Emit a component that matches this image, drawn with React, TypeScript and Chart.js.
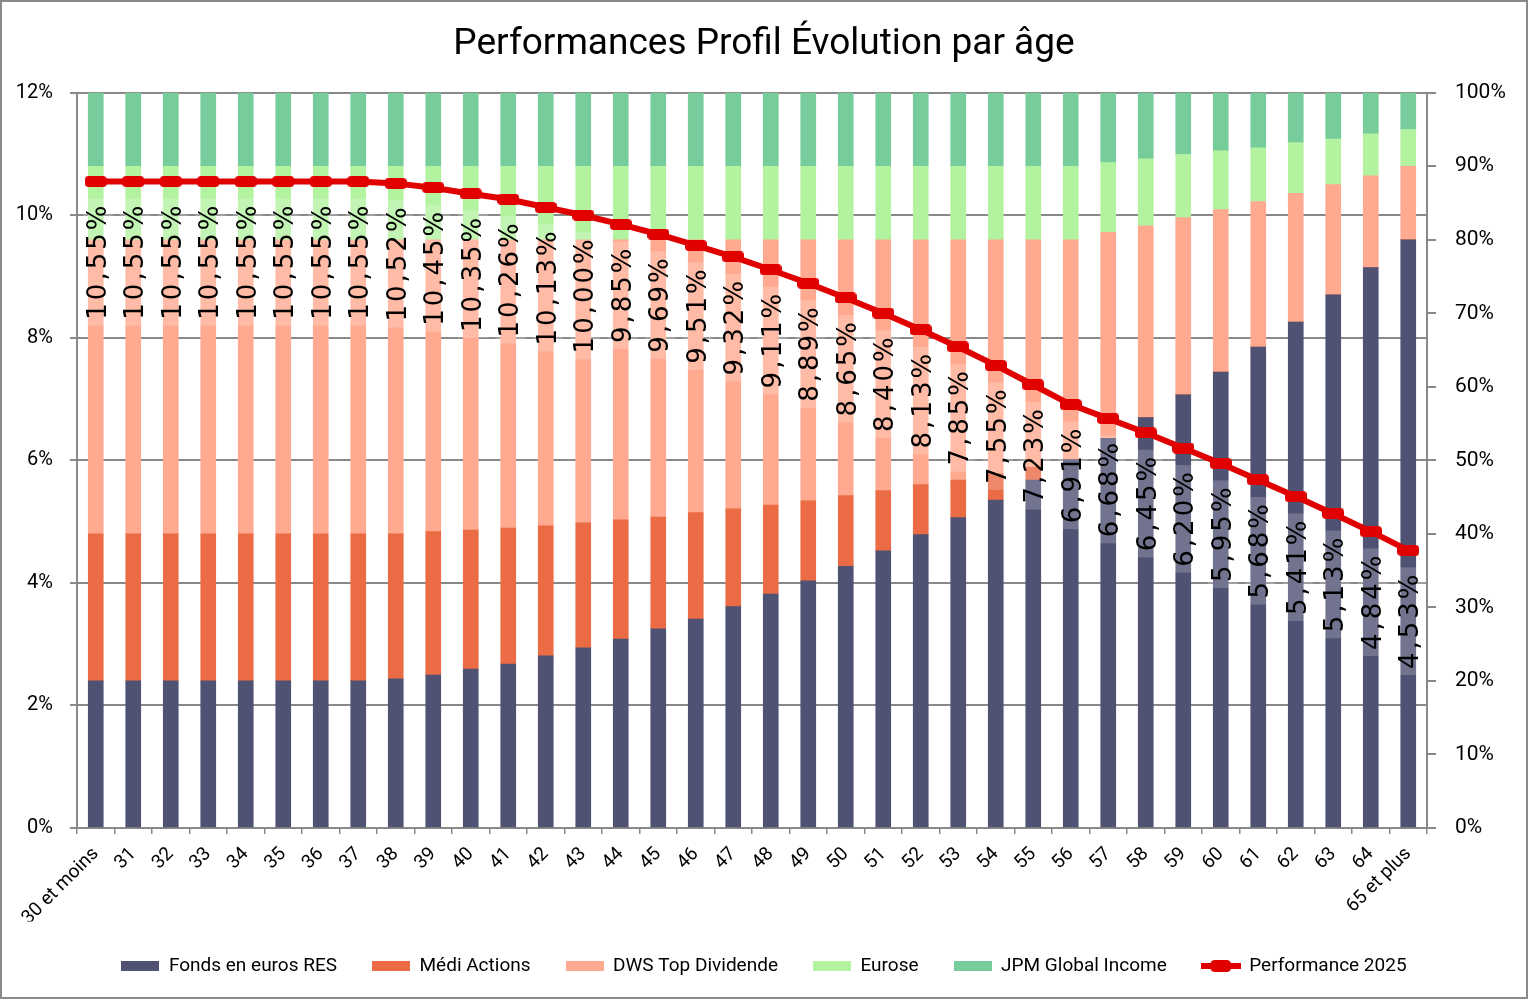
import { useEffect, useRef } from 'react'
import { Chart, registerables } from 'chart.js'

Chart.register(...registerables)

// ages (x axis)
const AGES = [
  '30 et moins', '31', '32', '33', '34', '35', '36', '37', '38', '39',
  '40', '41', '42', '43', '44', '45', '46', '47', '48', '49',
  '50', '51', '52', '53', '54', '55', '56', '57', '58', '59',
  '60', '61', '62', '63', '64', '65 et plus',
]

// allocation, % of the portfolio (right axis)
const FONDS_EUROS = [
  20, 20, 20, 20, 20, 20, 20, 20, 20.3, 20.8,
  21.6, 22.3, 23.4, 24.5, 25.7, 27.1, 28.4, 30.1, 31.8, 33.6,
  35.6, 37.7, 39.9, 42.2, 44.6, 47.3, 50.1, 53.0, 55.8, 58.9,
  62.0, 65.4, 68.8, 72.5, 76.2, 80,
]
const MEDI_ACTIONS = [
  20, 20, 20, 20, 20, 20, 20, 20, 19.7, 19.5,
  18.9, 18.5, 17.7, 17.0, 16.2, 15.2, 14.5, 13.3, 12.1, 10.9,
  9.6, 8.2, 6.8, 5.1, 3.6, 1.8, 0, 0, 0, 0,
  0, 0, 0, 0, 0, 0,
]
const DWS_TOP_DIVIDENDE = [
  40, 40, 40, 40, 40, 40, 40, 40, 40, 39.7,
  39.5, 39.2, 38.9, 38.5, 38.1, 37.7, 37.1, 36.6, 36.1, 35.5,
  34.8, 34.1, 33.3, 32.7, 31.8, 30.9, 29.9, 28.0, 26.1, 24.1,
  22.1, 19.8, 17.5, 15.0, 12.5, 10,
]
const EUROSE = [
  10, 10, 10, 10, 10, 10, 10, 10, 10, 10,
  10, 10, 10, 10, 10, 10, 10, 10, 10, 10,
  10, 10, 10, 10, 10, 10, 10, 9.5, 9.1, 8.6,
  8.0, 7.3, 6.9, 6.2, 5.7, 5,
]
const JPM_GLOBAL_INCOME = [
  10, 10, 10, 10, 10, 10, 10, 10, 10, 10,
  10, 10, 10, 10, 10, 10, 10, 10, 10, 10,
  10, 10, 10, 10, 10, 10, 10, 9.5, 9.0, 8.4,
  7.9, 7.5, 6.8, 6.3, 5.6, 5,
]

// performance 2025, % (left axis)
const PERFORMANCE_2025 = [
  10.55, 10.55, 10.55, 10.55, 10.55, 10.55, 10.55, 10.55, 10.52, 10.45,
  10.35, 10.26, 10.13, 10.0, 9.85, 9.69, 9.51, 9.32, 9.11, 8.89,
  8.65, 8.4, 8.13, 7.85, 7.55, 7.23, 6.91, 6.68, 6.45, 6.2,
  5.95, 5.68, 5.41, 5.13, 4.84, 4.53,
]

const SERIES = [
  { label: 'Fonds en euros RES', data: FONDS_EUROS, color: '#4f5273' },
  { label: 'Médi Actions', data: MEDI_ACTIONS, color: '#eb6b45' },
  { label: 'DWS Top Dividende', data: DWS_TOP_DIVIDENDE, color: '#ffaa90' },
  { label: 'Eurose', data: EUROSE, color: '#b3f3a0' },
  { label: 'JPM Global Income', data: JPM_GLOBAL_INCOME, color: '#76cc9a' },
]
const LINE_LABEL = 'Performance 2025'
const RED = '#e00000'
const GRID = '#898989'
const FONT = 'Roboto, "Noto Sans", sans-serif'

function boxSwatch(color: string) {
  const c = document.createElement('canvas')
  c.width = 38
  c.height = 10
  const ctx = c.getContext('2d')!
  ctx.fillStyle = color
  ctx.fillRect(0, 0, 38, 10)
  return c
}

function marker(w: number, h: number) {
  const c = document.createElement('canvas')
  c.width = w
  c.height = h
  const ctx = c.getContext('2d')!
  ctx.fillStyle = RED
  ctx.beginPath()
  ctx.roundRect(0, 0, w, h, 4)
  ctx.fill()
  return c
}

function lineSwatch() {
  const c = document.createElement('canvas')
  c.width = 40
  c.height = 12
  const ctx = c.getContext('2d')!
  ctx.fillStyle = RED
  ctx.fillRect(0, 3, 40, 6)
  ctx.beginPath()
  ctx.roundRect(10, 0, 20, 12, 4)
  ctx.fill()
  return c
}

// rotated value labels under the line points
const valueLabels = {
  id: 'valueLabels',
  afterDatasetsDraw(chart: Chart) {
    const meta = chart.getDatasetMeta(SERIES.length)
    const ctx = chart.ctx
    ctx.save()
    ctx.font = '26px "DejaVu Sans"'
    ;(ctx as any).letterSpacing = '3px'
    meta.data.forEach((pt: any, i: number) => {
      const text = PERFORMANCE_2025[i].toFixed(2).replace('.', ',') + '%'
      const w = ctx.measureText(text).width
      ctx.save()
      ctx.translate(pt.x + 2, pt.y + 21)
      ctx.rotate(-Math.PI / 2)
      ctx.fillStyle = 'rgba(255,255,255,0.2)'
      ctx.fillRect(-w - 6, -15, w + 10, 30)
      ctx.fillStyle = '#000'
      ctx.textAlign = 'right'
      ctx.textBaseline = 'middle'
      ctx.fillText(text, 0, 1)
      ctx.restore()
    })
    ctx.restore()
  },
}

export default function App() {
  const canvasRef = useRef<HTMLCanvasElement>(null)

  useEffect(() => {
    const canvas = canvasRef.current
    if (!canvas) return
    document.body.style.margin = '0'

    const pointImg = marker(22, 11)
    const legendItems = [
      ...SERIES.map((s, i) => ({
        text: s.label,
        pointStyle: boxSwatch(s.color),
        fillStyle: s.color,
        strokeStyle: s.color,
        lineWidth: 0,
        hidden: false,
        datasetIndex: i,
        fontColor: '#000',
      })),
      {
        text: LINE_LABEL,
        pointStyle: lineSwatch(),
        fillStyle: RED,
        strokeStyle: RED,
        lineWidth: 0,
        hidden: false,
        datasetIndex: SERIES.length,
        fontColor: '#000',
      },
    ]

    const chart = new Chart(canvas, {
      type: 'bar',
      data: {
        labels: AGES,
        datasets: [
          ...SERIES.map((s) => ({
            type: 'bar' as const,
            label: s.label,
            data: s.data,
            backgroundColor: s.color,
            borderWidth: 0,
            barThickness: 15,
            yAxisID: 'y1',
            order: 1,
          })),
          {
            type: 'line' as const,
            label: LINE_LABEL,
            data: PERFORMANCE_2025,
            borderColor: RED,
            backgroundColor: RED,
            borderWidth: 6,
            pointStyle: pointImg,
            pointRadius: 6,
            yAxisID: 'y',
            order: 0,
            tension: 0,
          } as any,
        ],
      },
      options: {
        responsive: false,
        animation: false,
        events: [],
        layout: { padding: { left: 0, right: 0, top: 0, bottom: 11.5 } },
        plugins: {
          title: {
            display: true,
            text: 'Performances Profil Évolution par âge',
            color: '#000',
            font: { family: FONT, size: 37, weight: 'normal', lineHeight: 1.1 },
            padding: { top: 22, bottom: 28 },
          },
          legend: {
            position: 'bottom',
            labels: {
              usePointStyle: true,
              pointStyleWidth: 38,
              boxHeight: 10,
              padding: 35,
              color: '#000',
              font: { family: FONT, size: 19 },
              generateLabels: () => legendItems as any,
            },
          },
          tooltip: { enabled: false },
        },
        scales: {
          x: {
            stacked: true,
            afterFit: (scale: any) => {
              scale.height = 93.5
            },
            grid: {
              offset: true,
              drawOnChartArea: false,
              tickLength: 6,
              color: GRID,
              lineWidth: 1.5,
            },
            border: { color: GRID, width: 2 },
            ticks: {
              autoSkip: false,
              maxRotation: 45,
              minRotation: 45,
              padding: 9,
              color: '#000',
              font: { family: FONT, size: 19 },
            },
          },
          y: {
            position: 'left',
            min: 0,
            max: 12,
            afterFit: (scale: any) => {
              scale.width = 75
            },
            grid: { color: GRID, lineWidth: 2, tickLength: 7 },
            border: { color: GRID, width: 2 },
            ticks: {
              stepSize: 2,
              padding: 17,
              color: '#000',
              font: { family: FONT, size: 20 },
              callback: (v: any) => v + '%',
            },
          },
          y1: {
            position: 'right',
            stacked: true,
            min: 0,
            max: 100,
            afterFit: (scale: any) => {
              scale.width = 99
            },
            grid: { drawOnChartArea: false, color: GRID, lineWidth: 2, tickLength: 9 },
            border: { color: GRID, width: 2 },
            ticks: {
              stepSize: 10,
              padding: 19,
              color: '#000',
              font: { family: FONT, size: 21 },
              callback: (v: any) => v + '%',
            },
          },
        },
      },
      plugins: [valueLabels],
    })

    return () => {
      chart.destroy()
    }
  }, [])

  return (
    <div
      style={{
        position: 'fixed',
        left: 0,
        top: 0,
        width: 1528,
        height: 999,
        boxSizing: 'border-box',
        border: `2px solid ${GRID}`,
        background: '#fff',
      }}
    >
      <canvas ref={canvasRef} width={1524} height={995} style={{ display: 'block' }} />
    </div>
  )
}
